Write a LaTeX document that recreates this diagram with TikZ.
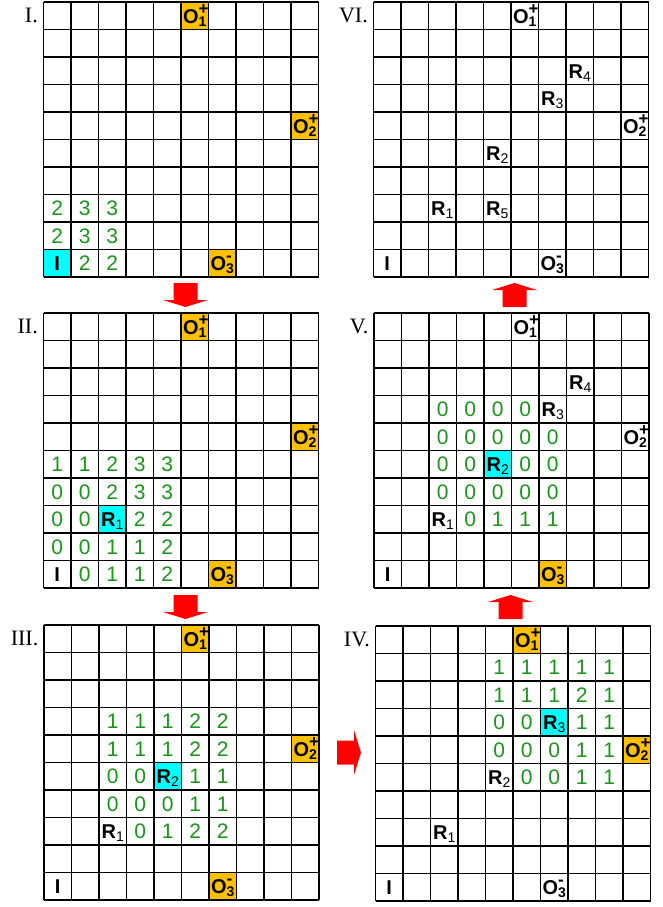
\documentclass[tikz,border=0pt]{standalone}
\usepackage{fontspec}
\setmainfont{Liberation Serif}
\setsansfont{Liberation Sans}

\definecolor{numgreen}{RGB}{25,150,25}
\definecolor{outgold}{RGB}{255,192,0}
\definecolor{hotcyan}{RGB}{0,255,255}
\definecolor{arrowred}{RGB}{255,0,0}

% O with stacked sign and index, R with index
\newcommand{\supsub}[2]{\makebox[0pt][l]{\raisebox{9pt}{\fontsize{17}{17}\selectfont #1}}\raisebox{-3pt}{\fontsize{14}{14}\selectfont #2}}
\newcommand{\rsub}[1]{\raisebox{-3pt}{\fontsize{14}{14}\selectfont\mdseries #1}}

\begin{document}
\begin{tikzpicture}[
    x=1pt, y=-1pt,
    num/.style={text=numgreen, font=\fontsize{21}{21}\selectfont\sffamily, inner sep=0pt, anchor=base},
    tag/.style={font=\fontsize{20}{20}\selectfont\sffamily\bfseries, inner sep=0pt, anchor=base},
    port/.style={font=\fontsize{20}{20}\selectfont\sffamily\bfseries, inner sep=0pt, anchor=base},
    panellabel/.style={font=\fontsize{22}{22}\selectfont, inner sep=0pt, anchor=base east},
    gridline/.style={line width=1.8pt},
    redarrow/.pic={\fill[arrowred] (-12,0) -- (-12,17) -- (-22.5,17) -- (0,24) -- (22.5,17) -- (12,17) -- (12,0) -- cycle;}
]
\useasboundingbox (0,0) rectangle (662,907);

% panel I
\begin{scope}[shift={(43.5,2)}, x=27.5pt, y=-27.5pt]
  \fill[outgold] (5,0) rectangle (6,1) (9,4) rectangle (10,5) (6,9) rectangle (7,10);
  \fill[hotcyan] (0,9) rectangle (1,10);
  \foreach \k in {0,...,10} {\draw[gridline] (\k,0) -- (\k,10); \draw[gridline] (0,\k) -- (10,\k);}
  \node[panellabel] (labI) at (-0.2,0.73) {I.};
  \node[port] (I-o1) at (5.5,0.78) {O\supsub{+}{1}};
  \node[port] (I-o2) at (9.5,4.78) {O\supsub{+}{2}};
  \node[port] (I-o3) at (6.5,9.78) {O\supsub{-}{3}};
  \node[tag] (I-in) at (0.5,9.78) {I};
  \foreach \c/\r/\v in {0/7/2,1/7/3,2/7/3,0/8/2,1/8/3,2/8/3,1/9/2,2/9/2}
    \node[num] (I-\c\r) at (\c+0.5,\r+0.78) {\v};
\end{scope}

% panel II
\begin{scope}[shift={(43.5,313)}, x=27.5pt, y=-27.5pt]
  \fill[outgold] (5,0) rectangle (6,1) (9,4) rectangle (10,5) (6,9) rectangle (7,10);
  \fill[hotcyan] (2,7) rectangle (3,8);
  \foreach \k in {0,...,10} {\draw[gridline] (\k,0) -- (\k,10); \draw[gridline] (0,\k) -- (10,\k);}
  \node[panellabel] (labII) at (-0.2,0.73) {II.};
  \node[port] (II-o1) at (5.5,0.78) {O\supsub{+}{1}};
  \node[port] (II-o2) at (9.5,4.78) {O\supsub{+}{2}};
  \node[port] (II-o3) at (6.5,9.78) {O\supsub{-}{3}};
  \node[tag] (II-in) at (0.5,9.78) {I};
  \node[tag] (II-r1) at (2.5,7.78) {R\rsub{1}};
  \foreach \c/\r/\v in {0/5/1,1/5/1,2/5/2,3/5/3,4/5/3,
                        0/6/0,1/6/0,2/6/2,3/6/3,4/6/3,
                        0/7/0,1/7/0,3/7/2,4/7/2,
                        0/8/0,1/8/0,2/8/1,3/8/1,4/8/2,
                        1/9/0,2/9/1,3/9/1,4/9/2}
    \node[num] (II-\c\r) at (\c+0.5,\r+0.78) {\v};
\end{scope}

% panel III
\begin{scope}[shift={(44,625)}, x=27.5pt, y=-27.5pt]
  \fill[outgold] (5,0) rectangle (6,1) (9,4) rectangle (10,5) (6,9) rectangle (7,10);
  \fill[hotcyan] (4,5) rectangle (5,6);
  \foreach \k in {0,...,10} {\draw[gridline] (\k,0) -- (\k,10); \draw[gridline] (0,\k) -- (10,\k);}
  \node[panellabel] (labIII) at (-0.2,0.73) {III.};
  \node[port] (III-o1) at (5.5,0.78) {O\supsub{+}{1}};
  \node[port] (III-o2) at (9.5,4.78) {O\supsub{+}{2}};
  \node[port] (III-o3) at (6.5,9.78) {O\supsub{-}{3}};
  \node[tag] (III-in) at (0.5,9.78) {I};
  \node[tag] (III-r1) at (2.5,7.78) {R\rsub{1}};
  \node[tag] (III-r2) at (4.5,5.78) {R\rsub{2}};
  \foreach \c/\r/\v in {2/3/1,3/3/1,4/3/1,5/3/2,6/3/2,
                        2/4/1,3/4/1,4/4/1,5/4/2,6/4/2,
                        2/5/0,3/5/0,5/5/1,6/5/1,
                        2/6/0,3/6/0,4/6/0,5/6/1,6/6/1,
                        3/7/0,4/7/1,5/7/2,6/7/2}
    \node[num] (III-\c\r) at (\c+0.5,\r+0.78) {\v};
\end{scope}

% panel IV
\begin{scope}[shift={(375.5,626)}, x=27.5pt, y=-27.5pt]
  \fill[outgold] (5,0) rectangle (6,1) (9,4) rectangle (10,5);
  \fill[hotcyan] (6,3) rectangle (7,4);
  \foreach \k in {0,...,10} {\draw[gridline] (\k,0) -- (\k,10); \draw[gridline] (0,\k) -- (10,\k);}
  \node[panellabel] (labIV) at (-0.2,0.73) {IV.};
  \node[port] (IV-o1) at (5.5,0.78) {O\supsub{+}{1}};
  \node[port] (IV-o2) at (9.5,4.78) {O\supsub{+}{2}};
  \node[port] (IV-o3) at (6.5,9.78) {O\supsub{-}{3}};
  \node[tag] (IV-in) at (0.5,9.78) {I};
  \node[tag] (IV-r1) at (2.5,7.78) {R\rsub{1}};
  \node[tag] (IV-r2) at (4.5,5.78) {R\rsub{2}};
  \node[tag] (IV-r3) at (6.5,3.78) {R\rsub{3}};
  \foreach \c/\r/\v in {4/1/1,5/1/1,6/1/1,7/1/1,8/1/1,
                        4/2/1,5/2/1,6/2/1,7/2/2,8/2/1,
                        4/3/0,5/3/0,7/3/1,8/3/1,
                        4/4/0,5/4/0,6/4/0,7/4/1,8/4/1,
                        5/5/0,6/5/0,7/5/1,8/5/1}
    \node[num] (IV-\c\r) at (\c+0.5,\r+0.78) {\v};
\end{scope}

% panel V
\begin{scope}[shift={(374,313)}, x=27.5pt, y=-27.5pt]
  \fill[outgold] (6,9) rectangle (7,10);
  \fill[hotcyan] (4,5) rectangle (5,6);
  \foreach \k in {0,...,10} {\draw[gridline] (\k,0) -- (\k,10); \draw[gridline] (0,\k) -- (10,\k);}
  \node[panellabel] (labV) at (-0.2,0.73) {V.};
  \node[port] (V-o1) at (5.5,0.78) {O\supsub{+}{1}};
  \node[port] (V-o2) at (9.5,4.78) {O\supsub{+}{2}};
  \node[port] (V-o3) at (6.5,9.78) {O\supsub{-}{3}};
  \node[tag] (V-in) at (0.5,9.78) {I};
  \node[tag] (V-r1) at (2.5,7.78) {R\rsub{1}};
  \node[tag] (V-r2) at (4.5,5.78) {R\rsub{2}};
  \node[tag] (V-r3) at (6.5,3.78) {R\rsub{3}};
  \node[tag] (V-r4) at (7.5,2.78) {R\rsub{4}};
  \foreach \c/\r/\v in {2/3/0,3/3/0,4/3/0,5/3/0,
                        2/4/0,3/4/0,4/4/0,5/4/0,6/4/0,
                        2/5/0,3/5/0,5/5/0,6/5/0,
                        2/6/0,3/6/0,4/6/0,5/6/0,6/6/0,
                        3/7/0,4/7/1,5/7/1,6/7/1}
    \node[num] (V-\c\r) at (\c+0.5,\r+0.78) {\v};
\end{scope}

% panel VI
\begin{scope}[shift={(373.5,2)}, x=27.5pt, y=-27.5pt]
  \foreach \k in {0,...,10} {\draw[gridline] (\k,0) -- (\k,10); \draw[gridline] (0,\k) -- (10,\k);}
  \node[panellabel] (labVI) at (-0.2,0.73) {VI.};
  \node[port] (VI-o1) at (5.5,0.78) {O\supsub{+}{1}};
  \node[port] (VI-o2) at (9.5,4.78) {O\supsub{+}{2}};
  \node[port] (VI-o3) at (6.5,9.78) {O\supsub{-}{3}};
  \node[tag] (VI-in) at (0.5,9.78) {I};
  \node[tag] (VI-r1) at (2.5,7.78) {R\rsub{1}};
  \node[tag] (VI-r5) at (4.5,7.78) {R\rsub{5}};
  \node[tag] (VI-r2) at (4.5,5.78) {R\rsub{2}};
  \node[tag] (VI-r3) at (6.5,3.78) {R\rsub{3}};
  \node[tag] (VI-r4) at (7.5,2.78) {R\rsub{4}};
\end{scope}

% step arrows
\pic at (185.5,283) {redarrow};
\pic at (185.5,595) {redarrow};
\pic[rotate=90] at (337,752.5) {redarrow};
\pic[rotate=180] at (510.5,619) {redarrow};
\pic[rotate=180] at (514.5,307) {redarrow};
\end{tikzpicture}
\end{document}
